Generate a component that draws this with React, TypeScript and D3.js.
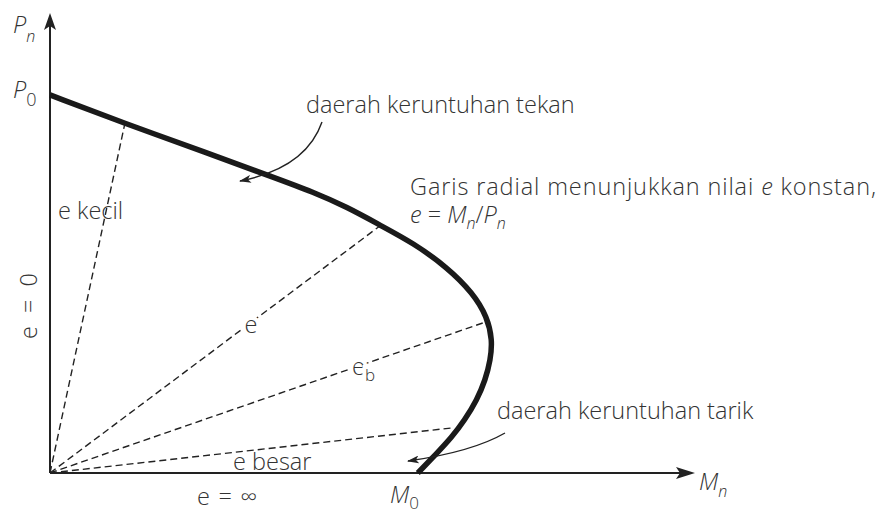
import React from 'react'
import * as d3 from 'd3'

// interaction diagram (Pn - Mn), arbitrary units 0..100 on both axes
const curveM = [0, 11.4, 24.4, 34.7, 40.9, 46.2, 51.3, 56.5, 61.7, 65.8, 68.0, 68.8, 68.5, 67.7, 66.4, 64.5, 62.5, 59.9, 57.2]
const curveP = [82.2, 76.1, 69.6, 64.3, 61.1, 57.8, 53.9, 50.0, 44.8, 39.1, 33.9, 28.9, 24.6, 20.2, 15.9, 11.5, 7.8, 3.9, 0]

// radial lines of constant eccentricity, end points on the curve
const radialNames = ['e kecil', 'e', 'eb', 'e besar']
const radialM = [11.6, 51.3, 68.1, 62.5]
const radialP = [75.7, 53.7, 33.0, 9.8]

const width = 882
const height = 513
const origin = { x: 50, y: 473 }

const xScale = d3.scaleLinear().domain([0, 100]).range([origin.x, 693])
const yScale = d3.scaleLinear().domain([0, 100]).range([origin.y, 13])

const font = "'Open Sans', 'Noto Sans', sans-serif"
const ink = '#222'
const textInk = '#333'

const App = () => {
  const points: [number, number][] = curveM.map((m, i) => [m, curveP[i]])
  const line = d3.line<[number, number]>()
    .x(d => xScale(d[0]))
    .y(d => yScale(d[1]))
    .curve(d3.curveBasis)

  const txt = { fontFamily: font, fill: textInk, fontSize: 23.5, fontWeight: 300 }
  const halo = { paintOrder: 'stroke' as const, stroke: '#fff', strokeWidth: 8 }

  return (
    <svg width={width} height={height} style={{ position: 'absolute', left: 0, top: 0, background: '#fff' }}>
      <defs>
        <marker id="head" viewBox="0 0 12 8" refX="11" refY="4" markerWidth="12" markerHeight="8"
          markerUnits="userSpaceOnUse" orient="auto">
          <path d="M0,0 L12,4 L0,8 L3,4 Z" fill={ink} />
        </marker>
      </defs>

      {/* radial dashed lines */}
      {radialNames.map((name, i) => (
        <line key={name} x1={xScale(0)} y1={yScale(0)} x2={xScale(radialM[i])} y2={yScale(radialP[i])}
          stroke={ink} strokeWidth={1.4} strokeDasharray="7,4" />
      ))}

      {/* axes */}
      <line x1={origin.x} y1={origin.y} x2={origin.x} y2={24} stroke={ink} strokeWidth={2} />
      <path d={`M${origin.x},13 L${origin.x + 6},30 L${origin.x},26 L${origin.x - 6},30 Z`} fill={ink} />
      <line x1={origin.x} y1={origin.y} x2={682} y2={origin.y} stroke={ink} strokeWidth={2} />
      <path d={`M695,${origin.y} L676,${origin.y - 6} L680,${origin.y} L676,${origin.y + 6} Z`} fill={ink} />

      {/* interaction curve */}
      <path d={line(points) || ''} fill="none" stroke="#1a1a1a" strokeWidth={5.5} strokeLinecap="butt" />

      {/* annotation arrows */}
      <path d="M322,122 Q306,168 240,181" fill="none" stroke={ink} strokeWidth={1.4} markerEnd="url(#head)" />
      <path d="M505,433 Q472,452 408,461" fill="none" stroke={ink} strokeWidth={1.4} markerEnd="url(#head)" />

      {/* axis labels */}
      <text x={13} y={33} {...txt}><tspan fontStyle="italic">P</tspan><tspan fontSize={16} fontStyle="italic" dy={9}>n</tspan></text>
      <text x={13} y={98} {...txt}><tspan fontStyle="italic">P</tspan><tspan fontSize={18} dy={8}>0</tspan></text>
      <text x={699} y={490} {...txt}><tspan fontStyle="italic">M</tspan><tspan fontSize={16} fontStyle="italic" dy={7}>n</tspan></text>
      <text x={390} y={503} {...txt}><tspan fontStyle="italic">M</tspan><tspan fontSize={17} dy={6}>0</tspan></text>
      <text x={197} y={505} textLength={60} lengthAdjust="spacing" {...txt}>e = ∞</text>
      <text transform="translate(37,306) rotate(-90)" textAnchor="middle" textLength={66} lengthAdjust="spacing" {...txt}>e = 0</text>

      {/* radial line labels */}
      <text x={58} y={219} {...txt}>e kecil</text>
      <text x={251} y={333} textAnchor="middle" {...txt} {...halo}>e</text>
      <text x={352} y={375} {...txt} {...halo}>e<tspan fontSize={17} dy={6}>b</tspan></text>
      <text x={233} y={470} {...txt}>e besar</text>

      {/* region notes */}
      <text x={306} y={113} {...txt}>daerah keruntuhan tekan</text>
      <text x={497} y={419} {...txt}>daerah keruntuhan tarik</text>
      <text x={410} y={195} textLength={466} lengthAdjust="spacing" {...txt}>Garis radial menunjukkan nilai <tspan fontStyle="italic">e</tspan> konstan,</text>
      <text x={410} y={223} {...txt}>
        <tspan fontStyle="italic">e</tspan> = <tspan fontStyle="italic">M</tspan>
        <tspan fontSize={16} fontStyle="italic" dy={6}>n</tspan><tspan dy={-6}>/</tspan><tspan fontStyle="italic">P</tspan>
        <tspan fontSize={16} fontStyle="italic" dy={6}>n</tspan>
      </text>
    </svg>
  )
}

export default App
